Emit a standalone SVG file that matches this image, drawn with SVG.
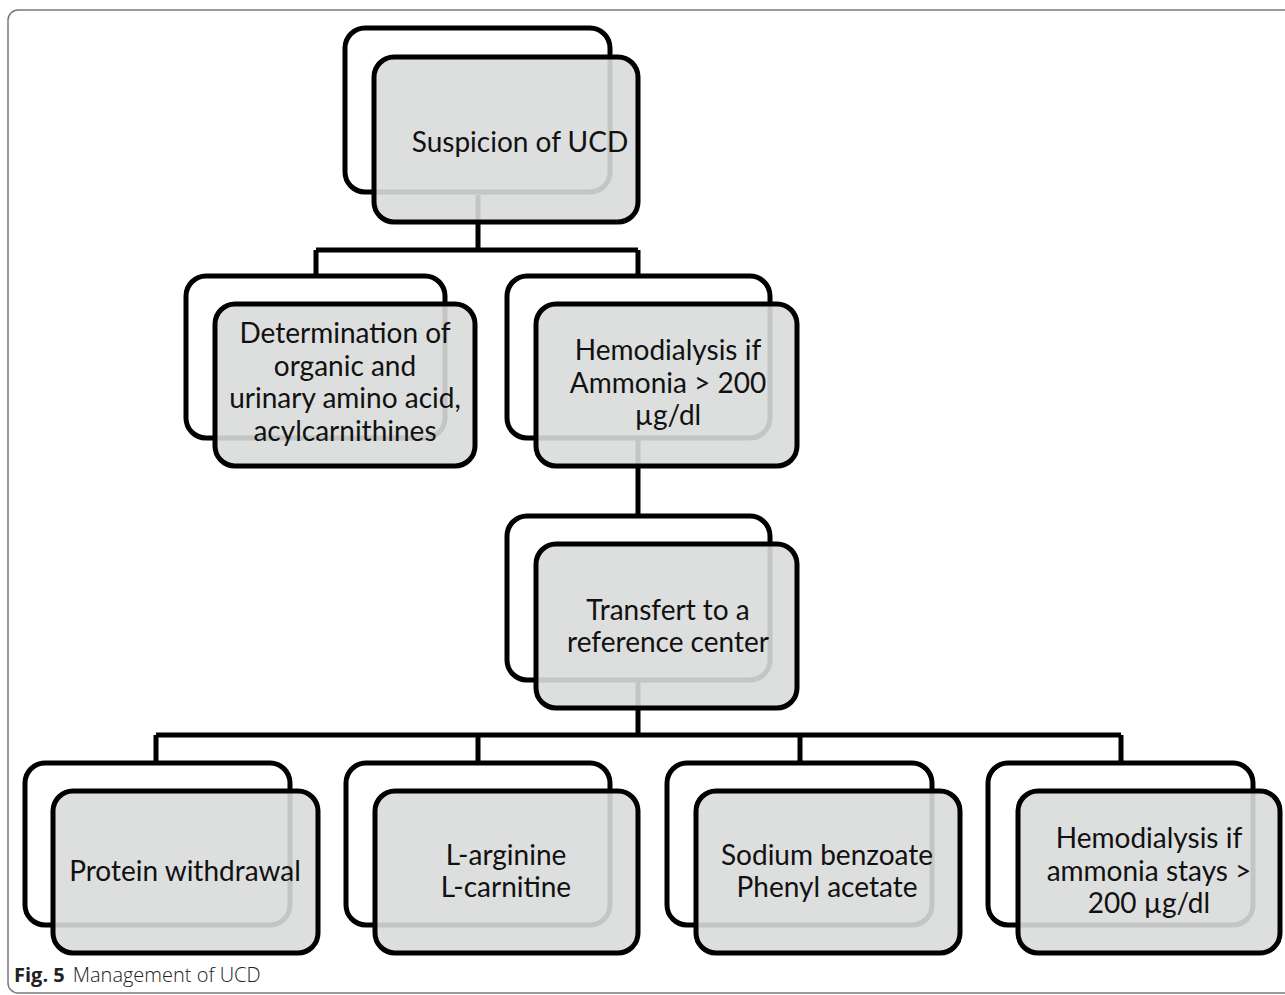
<svg xmlns="http://www.w3.org/2000/svg" width="1285" height="995" viewBox="0 0 1285 995">
<style>
.frame{fill:none;stroke:#7a7a7a;stroke-width:1.5}
.back{fill:#ffffff;stroke:#000;stroke-width:5}
.front{fill:#d9dada;fill-opacity:0.9;stroke:#000;stroke-width:5}
.conn{fill:none;stroke:#000;stroke-width:5}
.lbl{font-family:Lato,"Liberation Sans",sans-serif;font-size:28px;fill:#111;text-anchor:middle}
.cap{font-family:"Open Sans","Liberation Sans",sans-serif;font-size:20px;fill:#222}
</style>
<rect x="0" y="0" width="1285" height="995" fill="#fff"/>
<rect class="frame" x="8" y="10" width="1300" height="983" rx="10"/>
<g id="connectors">
<path class="conn" d="M478 195V250M316 250H638M316 250V276M638 250V276"/>
<path class="conn" d="M638 440V516"/>
<path class="conn" d="M638 680V735M156 735H1121M156 735V763M478 735V763M800 735V763M1121 735V763"/>
</g>
<g id="n1">
<rect class="back" x="345" y="28" width="265" height="164" rx="20"/>
<rect class="front" x="374" y="57" width="264" height="165" rx="20"/>
<text class="lbl" x="520" y="152">Suspicion of UCD</text>
</g>
<g id="n2">
<rect class="back" x="186" y="276" width="259" height="162" rx="20"/>
<rect class="front" x="215" y="304" width="260" height="162" rx="20"/>
<text class="lbl" x="345" y="343">Determination of</text>
<text class="lbl" x="345" y="376">organic and</text>
<text class="lbl" x="345" y="408">urinary amino acid,</text>
<text class="lbl" x="345" y="441">acylcarnithines</text>
</g>
<g id="n3">
<rect class="back" x="507" y="276" width="263" height="162" rx="20"/>
<rect class="front" x="536" y="304" width="261" height="162" rx="20"/>
<text class="lbl" x="668" y="360">Hemodialysis if</text>
<text class="lbl" x="668" y="393">Ammonia &gt; 200</text>
<text class="lbl" x="668" y="425">µg/dl</text>
</g>
<g id="n4">
<rect class="back" x="507" y="516" width="263" height="164" rx="20"/>
<rect class="front" x="536" y="544" width="261" height="164" rx="20"/>
<text class="lbl" x="668" y="620">Transfert to a</text>
<text class="lbl" x="668" y="652">reference center</text>
</g>
<g id="n5">
<rect class="back" x="25" y="763" width="265" height="162" rx="20"/>
<rect class="front" x="53" y="791" width="265" height="162" rx="20"/>
<text class="lbl" x="185" y="881">Protein withdrawal</text>
</g>
<g id="n6">
<rect class="back" x="346" y="763" width="264" height="162" rx="20"/>
<rect class="front" x="375" y="791" width="263" height="162" rx="20"/>
<text class="lbl" x="506" y="865">L-arginine</text>
<text class="lbl" x="506" y="897">L-carnitine</text>
</g>
<g id="n7">
<rect class="back" x="667" y="763" width="265" height="162" rx="20"/>
<rect class="front" x="696" y="791" width="264" height="162" rx="20"/>
<text class="lbl" x="827" y="865">Sodium benzoate</text>
<text class="lbl" x="827" y="897">Phenyl acetate</text>
</g>
<g id="n8">
<rect class="back" x="988" y="763" width="265" height="162" rx="20"/>
<rect class="front" x="1018" y="791" width="262" height="162" rx="20"/>
<text class="lbl" x="1149" y="848">Hemodialysis if</text>
<text class="lbl" x="1149" y="881">ammonia stays &gt;</text>
<text class="lbl" x="1149" y="913">200 µg/dl</text>
</g>
<text class="cap" x="14" y="982"><tspan font-weight="bold">Fig. 5</tspan><tspan dx="8" font-weight="300">Management of UCD</tspan></text>
</svg>
